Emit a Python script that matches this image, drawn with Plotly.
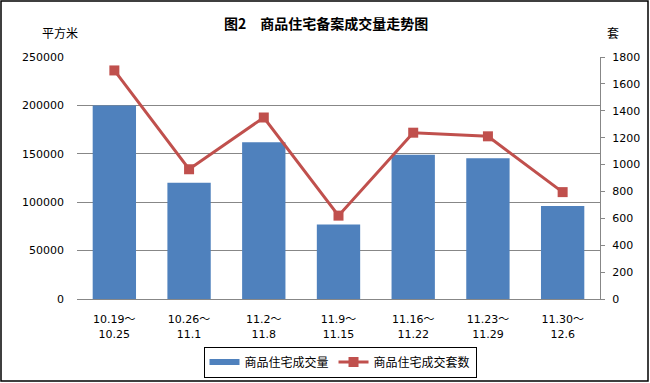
import plotly.graph_objects as go

categories = ["10.19～<br>10.25", "10.26～<br>11.1", "11.2～<br>11.8", "11.9～<br>11.15",
              "11.16～<br>11.22", "11.23～<br>11.29", "11.30～<br>12.6"]
area_values = [200000, 120000, 162000, 77000, 149000, 145500, 96000]
unit_values = [1700, 965, 1350, 620, 1237, 1210, 795]

W, H = 650, 383
ml, mr, mt, mb = 77, 50, 57, 84
pw, ph = W - ml - mr, H - mt - mb

def px(x):
    return (x - ml) / pw

def py(y):
    return (H - mb - y) / ph

font = "DejaVu Sans, Noto Sans CJK SC, sans-serif"
cjk = "Noto Sans CJK SC"

fig = go.Figure()
fig.add_trace(go.Bar(x=categories, y=area_values, name="商品住宅成交量", showlegend=False,
                     marker=dict(color="#4F81BD", line=dict(width=0))))
# legend-only entry drawn like the reference (wide blue bar swatch)
fig.add_trace(go.Scatter(x=[None], y=[None], name="商品住宅成交量", mode="lines",
                         line=dict(color="#4F81BD", width=6)))
fig.add_trace(go.Scatter(x=categories, y=unit_values, name="商品住宅成交套数", yaxis="y2",
                         mode="lines+markers",
                         line=dict(color="#C0504D", width=3),
                         marker=dict(symbol="square", size=10, color="#C0504D")))

fig.update_layout(
    width=W, height=H,
    margin=dict(l=ml, r=mr, t=mt, b=mb, autoexpand=False),
    paper_bgcolor="white", plot_bgcolor="white",
    font=dict(family=font, size=11, color="black"),
    bargap=0.42,
    showlegend=True,
    legend=dict(orientation="h", x=px(340), xanchor="center", y=py(362), yanchor="middle",
                bordercolor="black", borderwidth=1, font=dict(size=12, family=cjk),
                itemwidth=30, tracegroupgap=0),
    xaxis=dict(showline=True, linecolor="#878787", linewidth=1, ticks="", showgrid=False,
               tickfont=dict(size=11), automargin=False, ticklabelstandoff=10),
    yaxis=dict(range=[0, 250000], dtick=50000, tickformat="d", showgrid=True,
               gridcolor="#878787", gridwidth=1, zeroline=False, showline=False,
               ticks="", tickfont=dict(size=11), automargin=False, ticklabelstandoff=12),
    yaxis2=dict(range=[0, 1800], dtick=200, overlaying="y", side="right", showgrid=False,
                showline=True, linecolor="#878787", linewidth=1, ticks="outside",
                ticklen=4, tickcolor="#878787", zeroline=False, tickfont=dict(size=11),
                automargin=False, ticklabelstandoff=5),
    annotations=[
        dict(text="<b>图2　商品住宅备案成交量走势图</b>", x=px(326), y=py(23), xref="paper",
             yref="paper", xanchor="center", yanchor="middle", showarrow=False,
             font=dict(size=14, family=cjk)),
        dict(text="平方米", x=px(60), y=py(32), xref="paper", yref="paper", xanchor="center",
             yanchor="middle", showarrow=False, font=dict(size=12, family=cjk)),
        dict(text="套", x=px(613), y=py(32), xref="paper", yref="paper", xanchor="center",
             yanchor="middle", showarrow=False, font=dict(size=12, family=cjk)),
    ],
    shapes=[
        dict(type="rect", xref="paper", yref="paper", x0=px(1), x1=px(648), y0=py(381), y1=py(1),
             line=dict(color="black", width=1.5), fillcolor="rgba(0,0,0,0)"),
    ],
)

fig.write_html("out.html", config={"displayModeBar": False},
               post_script="document.body.style.margin='0';document.body.style.overflow='hidden';")
